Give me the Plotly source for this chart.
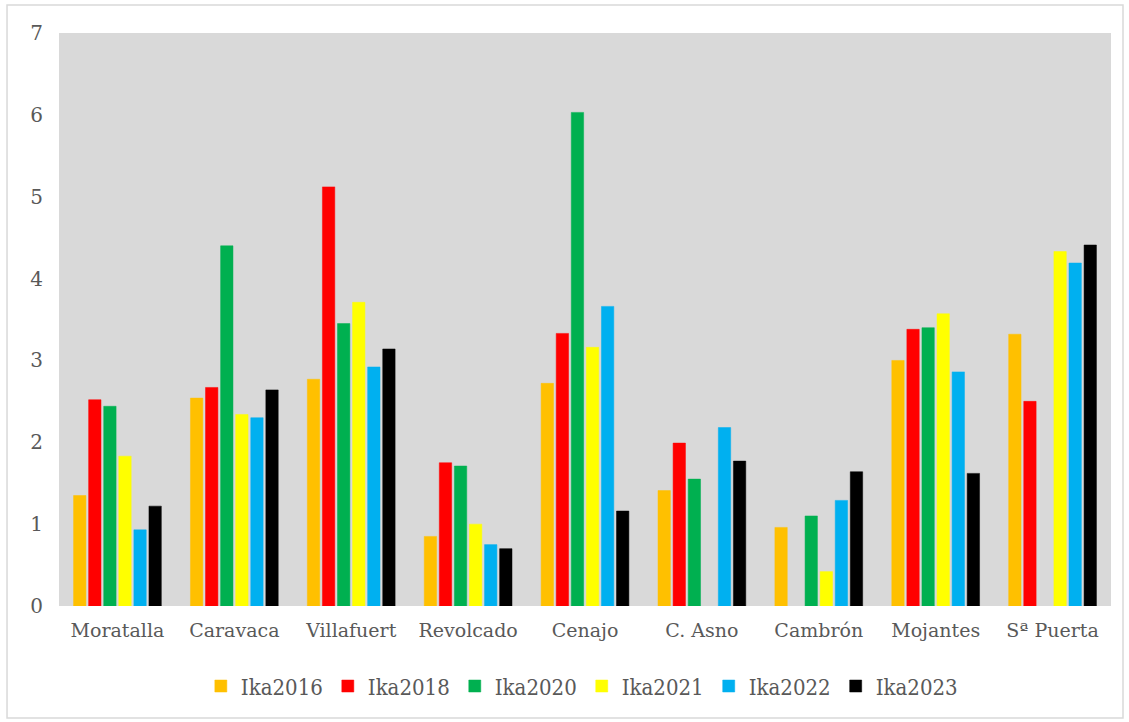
import plotly.graph_objects as go

# Sites along the x axis
sites = ["Moratalla", "Caravaca", "Villafuert", "Revolcado", "Cenajo",
         "C. Asno", "Cambrón", "Mojantes", "Sª Puerta"]

# Kilometric abundance index per survey year (None = not surveyed)
ika2016 = [1.35, 2.54, 2.77, 0.85, 2.72, 1.41, 0.96, 3.00, 3.32]
ika2018 = [2.52, 2.67, 5.12, 1.75, 3.33, 1.99, None, 3.38, 2.50]
ika2020 = [2.44, 4.40, 3.45, 1.71, 6.03, 1.55, 1.10, 3.40, None]
ika2021 = [1.83, 2.34, 3.71, 1.00, 3.16, None, 0.42, 3.57, 4.33]
ika2022 = [0.93, 2.30, 2.92, 0.75, 3.66, 2.18, 1.29, 2.86, 4.19]
ika2023 = [1.22, 2.64, 3.14, 0.70, 1.16, 1.77, 1.64, 1.62, 4.41]

series = [
    ("Ika2016", ika2016, "#FFC000"),
    ("Ika2018", ika2018, "#FF0000"),
    ("Ika2020", ika2020, "#00B050"),
    ("Ika2021", ika2021, "#FFFF00"),
    ("Ika2022", ika2022, "#00B0F0"),
    ("Ika2023", ika2023, "#000000"),
]

FONT = "DejaVu Serif"
TXT = "#595959"

fig = go.Figure()
for name, vals, col in series:
    fig.add_trace(go.Bar(
        name=name, x=sites, y=vals,
        marker=dict(color=col, line=dict(color=col, width=0.5)),
    ))

fig.update_layout(
    width=1129, height=722,
    margin=dict(l=59, r=18, t=33, b=116),
    paper_bgcolor="white",
    plot_bgcolor="#D9D9D9",
    barmode="group",
    bargap=0.226,
    bargroupgap=0.18,
    font=dict(family=FONT, color=TXT, size=19),
    showlegend=True,
    legend=dict(
        orientation="h",
        x=0.497, xanchor="center",
        y=-0.14, yanchor="middle",
        font=dict(family="DejaVu Serif Condensed", size=22, color=TXT),
        itemwidth=30,
        traceorder="normal",
        bgcolor="rgba(0,0,0,0)",
    ),
    xaxis=dict(
        showgrid=False, zeroline=False, showline=False,
        ticks="", ticklabelstandoff=11,
        tickfont=dict(family=FONT, size=19, color=TXT),
    ),
    yaxis=dict(
        range=[0, 7], dtick=1,
        showgrid=False, zeroline=False, showline=False,
        ticks="", ticklabelstandoff=15,
        tickfont=dict(family=FONT, size=20, color=TXT),
    ),
    shapes=[dict(
        type="rect", xref="paper", yref="paper",
        x0=-0.0494, x1=1.0114, y0=-0.1955, y1=1.0489,
        line=dict(color="#D9D9D9", width=1.5),
        fillcolor="rgba(0,0,0,0)", layer="below",
    )],
)

fig.write_html("out.html")
